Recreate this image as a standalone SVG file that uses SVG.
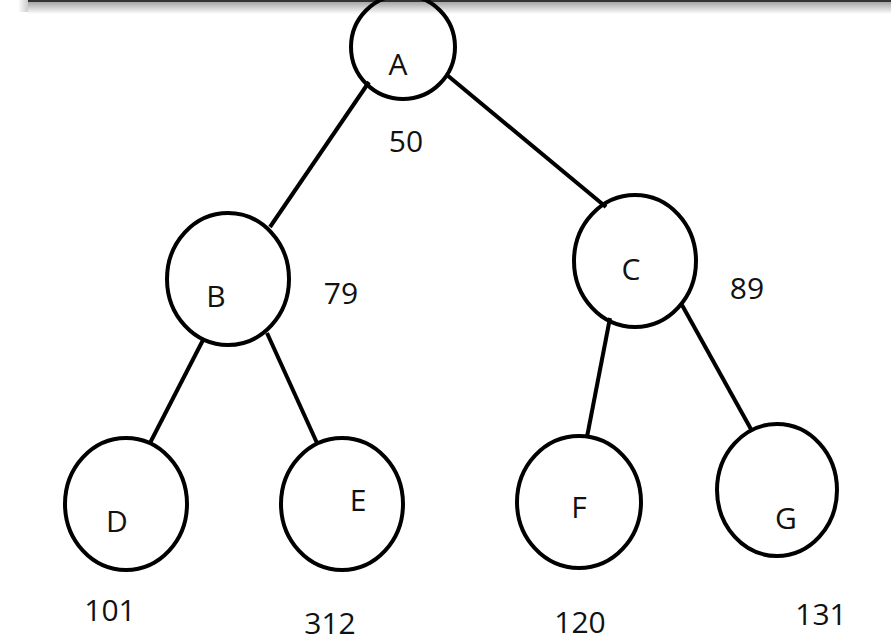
<svg xmlns="http://www.w3.org/2000/svg" width="891" height="643" viewBox="0 0 891 643">
<defs>
<linearGradient id="sh" x1="0" y1="0" x2="0" y2="1">
<stop offset="0" stop-color="#000" stop-opacity="0.35"/>
<stop offset="1" stop-color="#000" stop-opacity="0"/>
</linearGradient>
<linearGradient id="shl" x1="1" y1="0" x2="0" y2="0">
<stop offset="0" stop-color="#000" stop-opacity="0.2"/>
<stop offset="1" stop-color="#000" stop-opacity="0"/>
</linearGradient>
<style>
.n{fill:none;stroke:#000;stroke-width:4}
.e{stroke:#000;stroke-width:4;stroke-linecap:butt}
.t{font-family:"Open Sans","Noto Sans","Liberation Sans",sans-serif;font-size:30px;fill:#111;text-anchor:middle}
</style>
</defs>
<rect width="891" height="643" fill="#fff"/>
<g id="topbar">
<rect x="28" y="2" width="863" height="12" fill="url(#sh)"/>
<rect x="18" y="0" width="10" height="12" fill="url(#shl)"/>
<rect x="28" y="0" width="863" height="2" fill="#333"/>
</g>
<g id="connectors">
<line class="e" x1="369" y1="82" x2="270" y2="227"/>
<line class="e" x1="447" y1="75" x2="606" y2="207"/>
<line class="e" x1="203" y1="340" x2="150" y2="443"/>
<line class="e" x1="267" y1="333" x2="317" y2="443"/>
<line class="e" x1="610" y1="318" x2="587" y2="437"/>
<line class="e" x1="682" y1="305" x2="752" y2="431"/>
</g>
<g id="A"><ellipse class="n" cx="403" cy="47" rx="52" ry="52"/><text class="t" x="398" y="75">A</text></g>
<g id="B"><ellipse class="n" cx="228" cy="279" rx="61" ry="66"/><text class="t" x="216" y="307">B</text></g>
<g id="C"><ellipse class="n" cx="635" cy="261" rx="61" ry="66"/><text class="t" x="631" y="280">C</text></g>
<g id="D"><ellipse class="n" cx="126" cy="504" rx="61" ry="66"/><text class="t" x="117" y="532">D</text></g>
<g id="E"><ellipse class="n" cx="342" cy="504" rx="61" ry="66"/><text class="t" x="358" y="511">E</text></g>
<g id="F"><ellipse class="n" cx="579" cy="502" rx="62" ry="66"/><text class="t" x="579" y="518">F</text></g>
<g id="G"><ellipse class="n" cx="777" cy="490" rx="60" ry="66"/><text class="t" x="786" y="529">G</text></g>
<g id="labels">
<text class="t" x="406" y="152">50</text>
<text class="t" x="341" y="304">79</text>
<text class="t" x="747" y="299">89</text>
<text class="t" x="110" y="621">101</text>
<text class="t" x="330" y="634">312</text>
<text class="t" x="580" y="633">120</text>
<text class="t" x="821" y="625">131</text>
</g>
</svg>
